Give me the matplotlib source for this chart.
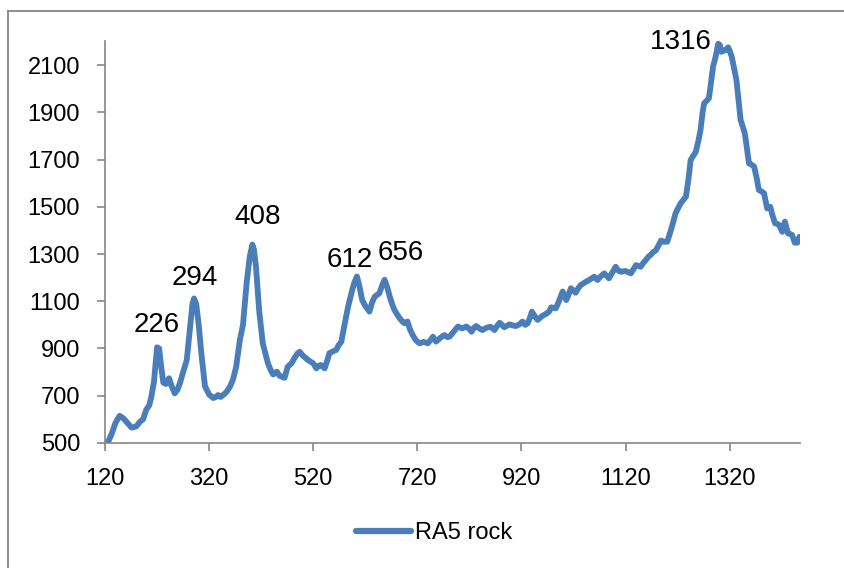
import matplotlib
matplotlib.use("Agg")
from matplotlib import pyplot as plt
from matplotlib.lines import Line2D

# Raman shift (x) and intensity (y)
shift = [125, 133, 140, 148, 155, 163, 171, 180, 187, 193, 199, 205, 209, 214, 220, 224, 228, 232,
         237, 243, 248, 254, 259, 264, 270, 277, 283, 288, 291, 295, 300, 305, 312, 320, 328, 333,
         337, 342, 347, 353, 360, 366, 372, 379, 385, 392, 398, 403, 406, 410, 416, 423, 433, 438,
         443, 450, 455, 459, 465, 471, 478, 484, 490, 494, 500, 510, 520, 526, 531, 535, 542, 547,
         551, 558, 564, 569, 574, 580, 587, 594, 599, 604, 609, 614, 620, 628, 633, 638, 647, 652,
         657, 662, 667, 672, 676, 681, 686, 691, 695, 701, 706, 711, 717, 724, 732, 740, 745, 750,
         756, 764, 772, 778, 782, 790, 798, 806, 814, 819, 824, 829, 833, 839, 845, 853, 861, 868,
         873, 878, 887, 897, 903, 909, 916, 922, 927, 932, 937, 940, 946, 951, 956, 960, 966, 973,
         977, 986, 992, 999, 1006, 1010, 1015, 1024, 1029, 1034, 1042, 1050, 1060, 1066, 1072, 1079,
         1088, 1094, 1101, 1106, 1111, 1120, 1130, 1135, 1140, 1149, 1154, 1159, 1164, 1168, 1173,
         1178, 1183, 1188, 1193, 1200, 1207, 1216, 1221, 1226, 1236, 1241, 1245, 1255, 1260, 1264,
         1268, 1271, 1280, 1285, 1288, 1293, 1298, 1301, 1304, 1308, 1312, 1317, 1320, 1324, 1328,
         1333, 1337, 1341, 1345, 1349, 1353, 1357, 1362, 1367, 1372, 1376, 1381, 1386, 1392, 1398,
         1402, 1407, 1411, 1415, 1421, 1426, 1432, 1436, 1440, 1445, 1450, 1454]
intensity = [500, 540, 585, 615, 605, 585, 565, 570, 590, 600, 640, 660, 696, 760, 905, 900, 820, 755,
             750, 774, 740, 710, 725, 754, 800, 851, 980, 1090, 1112, 1090, 1000, 880, 740, 705, 690, 695,
             703, 695, 703, 715, 738, 770, 823, 936, 1000, 1177, 1289, 1340, 1320, 1246, 1063, 922, 837, 810,
             790, 802, 785, 781, 776, 823, 837, 860, 880, 886, 870, 851, 837, 816, 828, 830, 816, 850,
             880, 888, 894, 915, 929, 1000, 1078, 1140, 1180, 1205, 1160, 1105, 1080, 1056, 1095, 1119, 1134, 1165,
             1191, 1160, 1119, 1085, 1063, 1045, 1028, 1015, 1007, 1014, 980, 957, 935, 922, 928, 922, 935, 950,
             929, 945, 957, 948, 950, 972, 993, 985, 993, 985, 971, 988, 995, 985, 978, 988, 992, 978,
             995, 1009, 990, 1002, 998, 995, 1002, 1014, 1000, 1007, 1035, 1056, 1035, 1021, 1030, 1038, 1045, 1056,
             1074, 1070, 1100, 1141, 1105, 1125, 1155, 1136, 1155, 1169, 1180, 1190, 1204, 1190, 1205, 1218,
             1197, 1220, 1246, 1230, 1225, 1228, 1218, 1235, 1253, 1246, 1262, 1275, 1289, 1296, 1308,
             1315, 1335, 1357, 1352, 1352, 1400, 1472, 1495, 1515, 1543, 1620, 1698, 1733, 1780, 1825,
             1900, 1938, 1959, 2040, 2093, 2135, 2190, 2185, 2156, 2160, 2163, 2175, 2160, 2135, 2090,
             2036, 1950, 1867, 1840, 1811, 1750, 1684, 1678, 1670, 1620, 1571, 1565, 1557, 1493, 1500,
             1465, 1430, 1428, 1423, 1394, 1437, 1387, 1385, 1380, 1348, 1348, 1373]

# peak labels
peak_text = ["226", "294", "408", "612", "656", "1316"]
peak_x = [220, 293, 413, 591, 688, 1226]
peak_y = [999, 1198, 1457, 1275, 1304, 2197]

x_ticks = [120, 320, 520, 720, 920, 1120, 1320]
y_ticks = [500, 700, 900, 1100, 1300, 1500, 1700, 1900, 2100]

LINE = "#4A7EBB"
GRAY = "#868686"
FONT = "Liberation Sans"


def main():
    plt.rcParams["font.family"] = FONT
    fig = plt.figure(figsize=(8.45, 5.68), dpi=100)
    ax = fig.add_axes([0.1243, 0.2201, 0.8224, 0.707])

    ax.plot(shift, intensity, color=LINE, linewidth=4.2, solid_joinstyle="round",
            solid_capstyle="round", label="RA5 rock")

    # 峰值标注
    for t, px, py in zip(peak_text, peak_x, peak_y):
        ax.text(px, py, t, fontsize=20, ha="center", va="center", color="black")

    ax.set_xlim(120, 1455)
    ax.set_ylim(500, 2200)
    ax.set_xticks(x_ticks)
    ax.set_yticks(y_ticks)

    for s in ["top", "right"]:
        ax.spines[s].set_visible(False)
    for s in ["left", "bottom"]:
        ax.spines[s].set_color(GRAY)
        ax.spines[s].set_linewidth(1.2)
    ax.tick_params(axis="both", direction="out", length=5.5, width=1.2, color=GRAY,
                   labelsize=17, labelcolor="black", pad=12.5)

    # legend below the plot
    handle = Line2D([0], [0], color=LINE, linewidth=4.5, solid_capstyle="round")
    fig.legend([handle], ["RA5 rock"], loc="center", bbox_to_anchor=(0.514, 0.062),
               frameon=False, fontsize=17, handlelength=2.33, handletextpad=0.15)

    # chart area border (only top and left fall inside the picture)
    fig.add_artist(Line2D([8 / 845, 8 / 845], [0, 1 - 11 / 568], color=GRAY, linewidth=1.3))
    fig.add_artist(Line2D([8 / 845, 1], [1 - 11 / 568, 1 - 11 / 568], color=GRAY, linewidth=1.3))

    fig.savefig("out.png", dpi=100)


if __name__ == '__main__':
    main()
